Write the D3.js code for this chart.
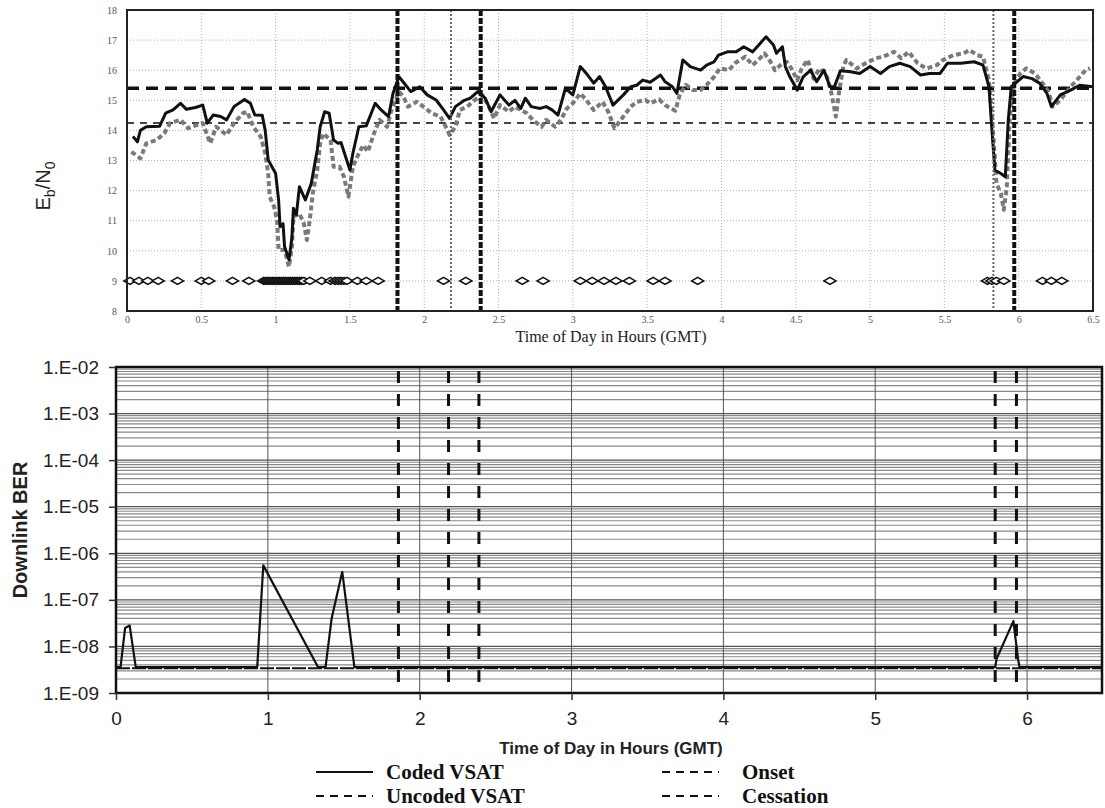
<!DOCTYPE html>
<html>
<head>
<meta charset="utf-8">
<script src="https://cdn.jsdelivr.net/npm/d3@7"></script>
<style>
  body { margin: 0; background: #fff; }
  svg { display: block; }
</style>
</head>
<body>
<svg id="chart" width="1105" height="808"></svg>
<script>
// Eb/N0 panel, coded VSAT (hours, dB)
const codedHours = [0.04,0.07,0.09,0.13,0.22,0.26,0.31,0.36,0.40,0.46,0.51,0.54,0.58,0.63,0.67,0.72,0.79,0.83,0.86,0.91,0.93,0.95,1.00,1.02,1.03,1.05,1.06,1.09,1.11,1.12,1.14,1.16,1.20,1.24,1.28,1.30,1.33,1.36,1.39,1.42,1.44,1.50,1.52,1.56,1.61,1.67,1.71,1.76,1.79,1.83,1.86,1.91,1.97,2.02,2.08,2.13,2.17,2.21,2.27,2.31,2.36,2.41,2.45,2.51,2.57,2.61,2.65,2.68,2.72,2.78,2.82,2.86,2.90,2.95,3.00,3.05,3.10,3.14,3.18,3.22,3.27,3.34,3.39,3.43,3.47,3.52,3.59,3.62,3.67,3.70,3.74,3.79,3.86,3.90,3.95,3.98,4.04,4.10,4.15,4.21,4.26,4.30,4.35,4.37,4.41,4.43,4.46,4.51,4.55,4.60,4.64,4.69,4.73,4.76,4.80,4.87,4.93,5.00,5.07,5.13,5.20,5.27,5.34,5.40,5.47,5.52,5.61,5.70,5.76,5.80,5.82,5.84,5.88,5.91,5.93,5.95,5.99,6.03,6.09,6.14,6.19,6.22,6.28,6.35,6.41,6.50];
const codedEbN0 = [13.80,13.62,14.00,14.12,14.14,14.57,14.68,14.90,14.70,14.76,14.84,14.24,14.51,14.46,14.35,14.79,15.03,14.90,14.51,14.50,14.00,13.02,12.57,11.69,10.80,10.90,10.14,9.70,10.45,11.41,11.20,12.13,11.69,12.24,13.35,14.12,14.62,14.57,13.68,13.57,13.60,12.68,13.24,14.12,14.15,14.90,14.68,14.46,15.23,15.78,15.60,15.29,15.45,15.18,15.01,14.68,14.40,14.79,15.00,15.07,15.29,15.07,14.62,15.18,14.84,15.00,14.73,15.07,14.79,14.73,14.79,14.68,14.51,15.40,15.18,16.12,15.84,15.57,15.79,15.45,14.84,15.18,15.45,15.50,15.67,15.60,15.84,15.62,15.45,15.23,16.34,16.12,16.00,16.17,16.28,16.50,16.61,16.61,16.78,16.61,16.89,17.11,16.84,16.56,16.78,16.12,15.78,15.34,15.78,16.00,15.62,16.00,15.45,15.45,15.98,15.95,15.89,16.12,15.89,16.12,16.23,16.12,15.84,15.89,15.89,16.23,16.23,16.28,16.17,15.45,14.01,12.68,12.57,12.46,14.35,15.45,15.62,15.79,15.72,15.57,15.23,14.79,15.18,15.34,15.50,15.45];

// Eb/N0 panel, uncoded VSAT
const uncodedHours = [0.03,0.09,0.13,0.20,0.25,0.29,0.36,0.41,0.47,0.51,0.56,0.60,0.67,0.72,0.78,0.81,0.85,0.90,0.93,0.95,0.96,0.99,1.01,1.02,1.06,1.09,1.11,1.12,1.16,1.19,1.21,1.23,1.25,1.28,1.30,1.32,1.37,1.39,1.43,1.46,1.49,1.52,1.56,1.59,1.62,1.67,1.70,1.75,1.78,1.83,1.86,1.89,1.95,2.01,2.05,2.11,2.15,2.17,2.21,2.24,2.29,2.34,2.39,2.43,2.47,2.51,2.57,2.61,2.65,2.69,2.73,2.79,2.82,2.88,2.92,2.96,3.00,3.05,3.09,3.14,3.20,3.24,3.28,3.34,3.39,3.43,3.49,3.52,3.58,3.62,3.69,3.72,3.76,3.81,3.86,3.90,3.95,3.99,4.05,4.09,4.16,4.21,4.26,4.29,4.33,4.36,4.41,4.44,4.47,4.51,4.54,4.58,4.62,4.66,4.71,4.74,4.77,4.79,4.82,4.84,4.91,4.97,5.04,5.09,5.16,5.21,5.26,5.32,5.38,5.45,5.49,5.56,5.63,5.67,5.72,5.76,5.80,5.82,5.84,5.85,5.88,5.90,5.92,5.94,5.97,6.01,6.05,6.11,6.16,6.20,6.23,6.28,6.35,6.40,6.45,6.48];
const uncodedEbN0 = [13.29,13.07,13.57,13.68,13.90,14.24,14.35,14.07,14.18,14.24,13.57,14.12,13.85,14.24,14.57,14.62,14.12,13.79,13.24,12.57,11.80,11.46,11.02,10.03,10.03,9.47,10.14,11.13,11.24,10.91,10.36,11.02,11.91,12.68,13.57,13.90,13.68,12.79,12.79,12.46,11.80,12.79,13.24,13.51,13.29,14.01,14.35,14.12,14.68,15.29,15.12,14.79,14.95,14.73,14.57,14.46,14.07,13.85,14.12,14.68,14.79,15.01,15.18,14.84,14.40,14.84,14.62,14.79,14.68,14.57,14.35,14.12,14.35,14.12,14.35,14.73,14.90,15.23,15.01,14.68,14.95,14.60,14.07,14.46,14.79,14.95,15.01,14.90,15.03,14.84,14.65,15.20,15.51,15.34,15.34,15.51,15.78,16.06,16.00,16.23,16.45,16.17,16.40,16.56,16.28,16.00,16.23,16.28,16.06,15.67,16.06,16.34,15.72,16.06,15.78,15.23,14.46,15.23,16.12,16.34,16.06,16.23,16.40,16.45,16.61,16.40,16.61,16.23,16.06,16.17,16.34,16.50,16.56,16.67,16.50,16.45,15.67,14.46,13.02,12.24,11.91,11.36,12.13,14.46,15.57,15.89,16.06,15.89,15.57,15.29,14.79,15.01,15.45,15.72,16.00,16.06];

// open diamonds at Eb/N0 = 9
const diamondHours = [0.02,0.08,0.14,0.21,0.34,0.50,0.55,0.71,0.82,0.92,0.935,0.95,0.965,0.98,0.995,1.01,1.025,1.04,1.055,1.07,1.085,1.10,1.115,1.13,1.145,1.16,1.175,1.19,1.23,1.31,1.37,1.40,1.42,1.44,1.46,1.48,1.55,1.61,1.69,2.13,2.28,2.66,2.80,3.05,3.13,3.21,3.29,3.38,3.54,3.62,3.84,4.73,5.79,5.82,5.85,5.90,6.16,6.22,6.29];
const diamondLevel = 9;

const thresholdHeavy = 15.4;
const thresholdLight = 14.25;
const eventsHeavyTop = [1.82, 2.38, 5.97];
const eventsLightTop = [2.18, 5.83];

const topHourTicks = [0,0.5,1,1.5,2,2.5,3,3.5,4,4.5,5,5.5,6,6.5];
const topHourLabels = ["0","0.5","1","1.5","2","2.5","3","3.5","4","4.5","5","5.5","6","6.5"];
const ebTicks = [8,9,10,11,12,13,14,15,16,17,18];

// BER panel
const berHours = [0,0.03,0.06,0.09,0.13,0.93,0.97,1.33,1.38,1.42,1.49,1.57,5.79,5.80,5.91,5.94,5.95,6.5];
const berCoded = [3.6e-9,3.6e-9,2.5e-8,2.8e-8,3.6e-9,3.6e-9,5.5e-7,3.6e-9,3.6e-9,4e-8,4e-7,3.6e-9,3.6e-9,5.5e-9,3.5e-8,5.5e-9,3.6e-9,3.6e-9];
const berUncodedHours = [0, 6.5];
const berUncoded = [3.4e-9, 3.4e-9];
const eventsBer = [1.86, 2.19, 2.39, 5.79, 5.93];

const berTicks = [1e-2,1e-3,1e-4,1e-5,1e-6,1e-7,1e-8,1e-9];
const berTickLabels = ["1.E-02","1.E-03","1.E-04","1.E-05","1.E-06","1.E-07","1.E-08","1.E-09"];
const berHourTicks = [0,1,2,3,4,5,6];

const svg = d3.select('#chart');
const serif = '"Liberation Serif", "Times New Roman", serif';
const sans = '"Liberation Sans", Arial, sans-serif';

// ---------- top panel ----------
const xTop = d3.scaleLinear().domain([0, 6.5]).range([127, 1093]);
const yTop = d3.scaleLinear().domain([8, 18]).range([311, 10]);
const panelTop = svg.append('g');

// dotted grid
panelTop.append('g').selectAll('line').data(topHourTicks.slice(1, -1)).join('line')
  .attr('x1', d => xTop(d)).attr('x2', d => xTop(d))
  .attr('y1', yTop(18)).attr('y2', yTop(8))
  .attr('stroke', '#b0b0b0').attr('stroke-width', 1).attr('stroke-dasharray', '1,2');
panelTop.append('g').selectAll('line').data(ebTicks.slice(1, -1)).join('line')
  .attr('x1', xTop(0)).attr('x2', xTop(6.5))
  .attr('y1', d => yTop(d)).attr('y2', d => yTop(d))
  .attr('stroke', '#b0b0b0').attr('stroke-width', 1).attr('stroke-dasharray', '1,2');

// thresholds
panelTop.append('line')
  .attr('x1', xTop(0)).attr('x2', xTop(6.5))
  .attr('y1', yTop(thresholdHeavy)).attr('y2', yTop(thresholdHeavy))
  .attr('stroke', '#111').attr('stroke-width', 3.5).attr('stroke-dasharray', '12,7');
panelTop.append('line')
  .attr('x1', xTop(0)).attr('x2', xTop(6.5))
  .attr('y1', yTop(thresholdLight)).attr('y2', yTop(thresholdLight))
  .attr('stroke', '#444').attr('stroke-width', 2).attr('stroke-dasharray', '7,6');

// series
const lineTop = (hours) => d3.line().x((d, i) => xTop(hours[i])).y(d => yTop(d));
panelTop.append('path').datum(uncodedEbN0)
  .attr('d', lineTop(uncodedHours))
  .attr('fill', 'none').attr('stroke', '#7a7a7a').attr('stroke-width', 4)
  .attr('stroke-dasharray', '5,3').attr('stroke-linejoin', 'round');
panelTop.append('path').datum(codedEbN0)
  .attr('d', lineTop(codedHours))
  .attr('fill', 'none').attr('stroke', '#111').attr('stroke-width', 3)
  .attr('stroke-linejoin', 'round');

// event lines
panelTop.append('g').selectAll('line').data(eventsLightTop).join('line')
  .attr('x1', d => xTop(d)).attr('x2', d => xTop(d))
  .attr('y1', yTop(18)).attr('y2', yTop(8))
  .attr('stroke', '#666').attr('stroke-width', 2).attr('stroke-dasharray', '2,2');
panelTop.append('g').selectAll('line').data(eventsHeavyTop).join('line')
  .attr('x1', d => xTop(d)).attr('x2', d => xTop(d))
  .attr('y1', yTop(18)).attr('y2', yTop(8) + 2)
  .attr('stroke', '#111').attr('stroke-width', 4).attr('stroke-dasharray', '6,2');

// diamonds
panelTop.append('g').selectAll('path').data(diamondHours).join('path')
  .attr('transform', d => `translate(${xTop(d)},${yTop(diamondLevel)})`)
  .attr('d', 'M-6,0L0,-3.5L6,0L0,3.5Z')
  .attr('fill', '#fff').attr('stroke', '#111').attr('stroke-width', 1.6);

// frame
panelTop.append('rect')
  .attr('x', xTop(0)).attr('y', yTop(18))
  .attr('width', xTop(6.5) - xTop(0)).attr('height', yTop(8) - yTop(18))
  .attr('fill', 'none').attr('stroke', '#222').attr('stroke-width', 2);

// axes
const axTopX = panelTop.append('g').attr('transform', `translate(0,${yTop(8)})`)
  .call(d3.axisBottom(xTop).tickValues(topHourTicks).tickFormat((d, i) => topHourLabels[i]).tickSize(0).tickPadding(5));
const axTopY = panelTop.append('g').attr('transform', `translate(${xTop(0)},0)`)
  .call(d3.axisLeft(yTop).tickValues(ebTicks).tickFormat(d3.format('d')).tickSize(0).tickPadding(10));
[axTopX, axTopY].forEach(a => {
  a.select('.domain').remove();
  a.selectAll('text').attr('font-family', serif).attr('font-size', 10).attr('fill', '#555');
});

panelTop.append('text')
  .attr('x', 611).attr('y', 342)
  .attr('text-anchor', 'middle')
  .attr('font-family', serif).attr('font-size', 16).attr('fill', '#222')
  .text('Time of Day in Hours (GMT)');

const ebLabel = panelTop.append('text')
  .attr('transform', 'translate(50,186) rotate(-90)')
  .attr('text-anchor', 'middle')
  .attr('font-family', sans).attr('font-size', 20).attr('fill', '#222');
ebLabel.append('tspan').text('E');
ebLabel.append('tspan').attr('font-size', 14).attr('dy', 5).text('b');
ebLabel.append('tspan').attr('dy', -5).text('/N');
ebLabel.append('tspan').attr('font-size', 14).attr('dy', 5).text('0');

// ---------- bottom panel ----------
const xBer = d3.scaleLinear().domain([0, 6.5]).range([116, 1103]);
const yBer = d3.scaleLog().domain([1e-9, 1e-2]).range([693, 367]);
const panelBer = svg.append('g');

const isMajor = d => Math.abs(Math.log10(d) - Math.round(Math.log10(d))) < 1e-6;
panelBer.append('g').selectAll('line').data(yBer.ticks()).join('line')
  .attr('x1', xBer(0)).attr('x2', xBer(6.5))
  .attr('y1', d => yBer(d)).attr('y2', d => yBer(d))
  .attr('stroke', d => isMajor(d) ? '#555' : '#8a8a8a')
  .attr('stroke-width', 1.2);
panelBer.append('g').selectAll('line').data(berHourTicks.slice(1)).join('line')
  .attr('x1', d => xBer(d)).attr('x2', d => xBer(d))
  .attr('y1', yBer(1e-2)).attr('y2', yBer(1e-9))
  .attr('stroke', '#555').attr('stroke-width', 1);

panelBer.append('g').selectAll('line').data(eventsBer).join('line')
  .attr('x1', d => xBer(d)).attr('x2', d => xBer(d))
  .attr('y1', yBer(1e-2) + 4).attr('y2', yBer(1e-9) - 4)
  .attr('stroke', '#111').attr('stroke-width', 3).attr('stroke-dasharray', '12,11');

panelBer.append('path').datum(berUncoded)
  .attr('d', d3.line().x((d, i) => xBer(berUncodedHours[i])).y(d => yBer(d)))
  .attr('fill', 'none').attr('stroke', '#111').attr('stroke-width', 2).attr('stroke-dasharray', '14,2');
panelBer.append('path').datum(berCoded)
  .attr('d', d3.line().x((d, i) => xBer(berHours[i])).y(d => yBer(d)))
  .attr('fill', 'none').attr('stroke', '#111').attr('stroke-width', 2.2)
  .attr('stroke-linejoin', 'round');

panelBer.append('rect')
  .attr('x', xBer(0)).attr('y', yBer(1e-2))
  .attr('width', xBer(6.5) - xBer(0) - 1).attr('height', yBer(1e-9) - yBer(1e-2))
  .attr('fill', 'none').attr('stroke', '#111').attr('stroke-width', 2.5);

const axBerY = panelBer.append('g').attr('transform', `translate(${xBer(0)},0)`)
  .call(d3.axisLeft(yBer).tickValues(berTicks).tickFormat((d, i) => berTickLabels[i]).tickSize(7).tickPadding(10));
const axBerX = panelBer.append('g').attr('transform', `translate(0,${yBer(1e-9)})`)
  .call(d3.axisBottom(xBer).tickValues(berHourTicks).tickFormat(d3.format('d')).tickSize(7).tickPadding(12));
[axBerY, axBerX].forEach(a => {
  a.select('.domain').remove();
  a.selectAll('line').attr('stroke', '#333').attr('stroke-width', 1.5);
  a.selectAll('text').attr('font-family', sans).attr('font-size', 19).attr('fill', '#222');
});

panelBer.append('text')
  .attr('x', 611).attr('y', 754)
  .attr('text-anchor', 'middle')
  .attr('font-family', sans).attr('font-size', 17).attr('font-weight', 'bold').attr('fill', '#222')
  .text('Time of Day in Hours (GMT)');

panelBer.append('text')
  .attr('transform', 'translate(27,530) rotate(-90)')
  .attr('text-anchor', 'middle')
  .attr('font-family', sans).attr('font-size', 20).attr('font-weight', 'bold').attr('fill', '#222')
  .text('Downlink BER');

// ---------- legend ----------
const legendItems = [
  { label: 'Coded VSAT', x: 316, y: 779, dash: null },
  { label: 'Uncoded VSAT', x: 316, y: 803, dash: '8,6' },
  { label: 'Onset', x: 662, y: 779, dash: '8,6' },
  { label: 'Cessation', x: 662, y: 803, dash: '8,6' }
];
const leg = svg.append('g').selectAll('g').data(legendItems).join('g')
  .attr('transform', d => `translate(${d.x},${d.y})`);
leg.append('line')
  .attr('x1', 0).attr('x2', 57).attr('y1', -7).attr('y2', -7)
  .attr('stroke', '#111').attr('stroke-width', 2.2)
  .attr('stroke-dasharray', d => d.dash);
leg.append('text')
  .attr('x', d => d.x > 600 ? 80 : 70).attr('y', 0)
  .attr('font-family', serif).attr('font-size', 21).attr('font-weight', 'bold').attr('fill', '#111')
  .text(d => d.label);
</script>
</body>
</html>
